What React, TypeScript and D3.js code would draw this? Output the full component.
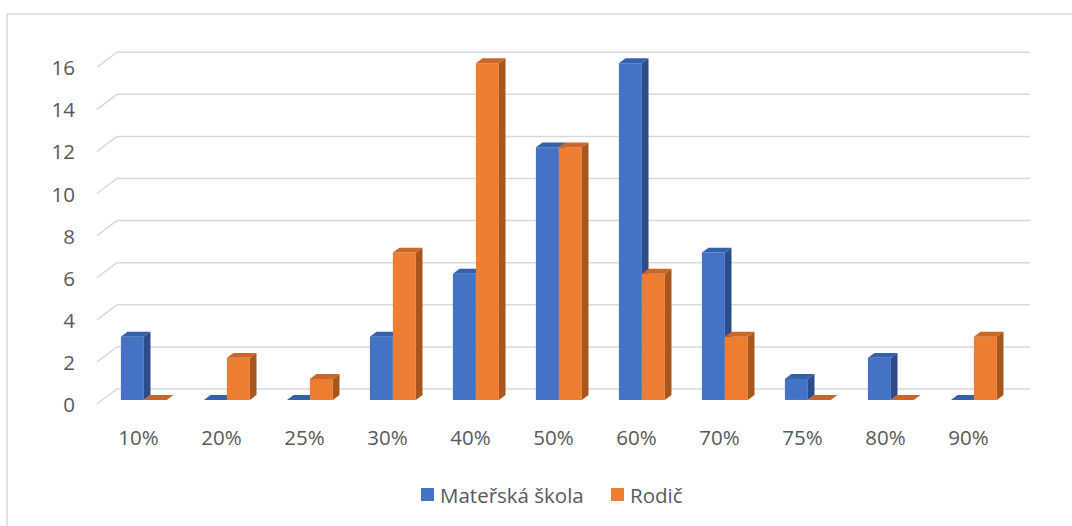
import React from "react";
import * as d3 from "d3";

const categories = ["10%", "20%", "25%", "30%", "40%", "50%", "60%", "70%", "75%", "80%", "90%"];
const seriesNames = ["Mateřská škola", "Rodič"];
const materskaSkola = [3, 0, 0, 3, 6, 12, 16, 7, 1, 2, 0];
const rodic = [0, 2, 1, 7, 16, 12, 6, 3, 0, 0, 3];
const yTicks = [0, 2, 4, 6, 8, 10, 12, 14, 16];

const W = 1072;
const H = 526;
const FONT = "'Open Sans', 'Liberation Sans', sans-serif";
const TEXT = "#595959";
const FS = 20.5;

const colors = [
  { front: "#4472C4", side: "#2C4D8A", top: "#3560AC" },
  { front: "#ED7D31", side: "#A8551E", top: "#C9662A" },
];

// oblique depth vector for full depth of floor
const DX = 20;
const DY = -15;
const D0 = 0.27; // bar front depth
const D1 = 0.6; // bar back depth

export default function App() {
  const x = d3
    .scaleBand<string>()
    .domain(categories)
    .range([97, 1010])
    .paddingInner(0.446)
    .paddingOuter(0.223);
  const xs = d3.scaleBand<string>().domain(seriesNames).range([0, x.bandwidth()]);
  const y = d3.scaleLinear().domain([0, 16]).range([404, 404 - 16 * 21.05]);

  const P = (px: number, py: number, d: number) => [px + d * DX, py + d * DY];
  const pts = (arr: number[][]) => arr.map((p) => p.join(",")).join(" ");

  const series = [materskaSkola, rodic];
  const frontLeft = 97;
  const frontRight = 1010;

  const bars: React.ReactNode[] = [];
  categories.forEach((c, i) => {
    series.forEach((vals, s) => {
      const v = vals[i];
      const x0 = (x(c) as number) + (xs(seriesNames[s]) as number);
      const x1 = x0 + xs.bandwidth();
      const yb = y(0);
      const yt = y(v);
      const col = colors[s];
      const fTL = P(x0, yt, D0);
      const fTR = P(x1, yt, D0);
      const fBR = P(x1, yb, D0);
      const fBL = P(x0, yb, D0);
      const bTL = P(x0, yt, D1);
      const bTR = P(x1, yt, D1);
      const bBR = P(x1, yb, D1);
      bars.push(
        <g key={`${c}-${s}`}>
          {v > 0 && <polygon points={pts([fTR, bTR, bBR, fBR])} fill={col.side} />}
          {v > 0 && <polygon points={pts([fTL, fTR, fBR, fBL])} fill={col.front} />}
          <polygon points={pts([fTL, fTR, bTR, bTL])} fill={col.top} />
        </g>
      );
    });
  });

  return (
    <svg width={W} height={H} style={{ position: "absolute", left: 0, top: 0 }}>
      <rect x={0} y={0} width={W} height={H} fill="#ffffff" />
      <rect x={7} y={14} width={W + 20} height={H + 20} fill="none" stroke="#d9d9d9" strokeWidth={1.5} />
      {yTicks.map((t) => {
        const f = P(frontLeft, y(t), 0);
        const b = P(frontLeft, y(t), 1);
        const br = P(frontRight, y(t), 1);
        return (
          <g key={t}>
            <polyline
              points={pts([f, b, br])}
              fill="none"
              stroke="#d9d9d9"
              strokeWidth={1.5}
            />
            <text
              x={75}
              y={y(t)}
              textAnchor="end"
              dominantBaseline="central"
              fontFamily={FONT}
              fontSize={FS}
              fill={TEXT}
            >
              {t}
            </text>
          </g>
        );
      })}
      {bars}
      {categories.map((c) => (
        <text
          key={c}
          x={(x(c) as number) + x.bandwidth() / 2}
          y={437}
          textAnchor="middle"
          dominantBaseline="central"
          fontFamily={FONT}
          fontSize={FS}
          fill={TEXT}
        >
          {c}
        </text>
      ))}
      <g>
        <rect x={421} y={488} width={13} height={13} fill={colors[0].front} />
        <text x={440} y={495} dominantBaseline="central" fontFamily={FONT} fontSize={FS} fill={TEXT}>
          {seriesNames[0]}
        </text>
        <rect x={611} y={488} width={13} height={13} fill={colors[1].front} />
        <text x={630} y={495} dominantBaseline="central" fontFamily={FONT} fontSize={FS} fill={TEXT}>
          {seriesNames[1]}
        </text>
      </g>
    </svg>
  );
}
